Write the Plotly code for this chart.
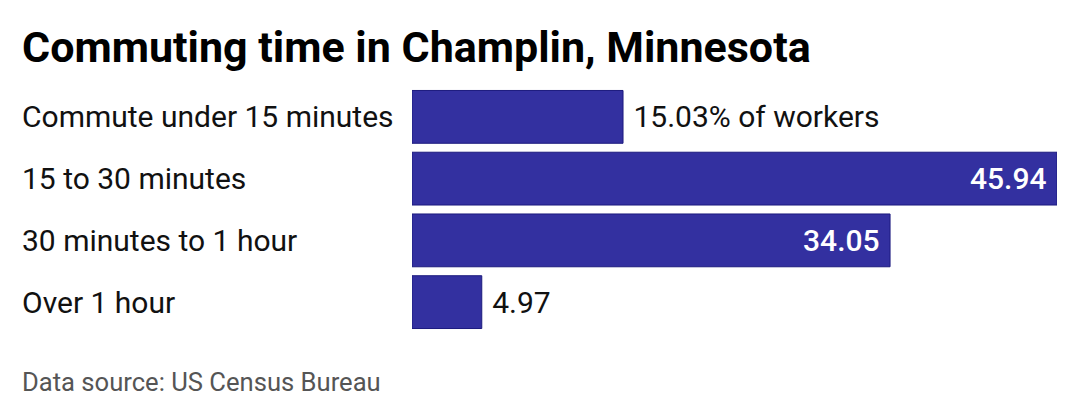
import plotly.graph_objects as go

categories = ["Commute under 15 minutes", "15 to 30 minutes", "30 minutes to 1 hour", "Over 1 hour"]
shares = [15.03, 45.94, 34.05, 4.97]
bar_labels = ["15.03% of workers", "45.94", "34.05", "4.97"]
label_pos = ["outside", "inside", "inside", "outside"]

# page has an 8px body margin, so the figure is drawn 8px smaller
W, H = 1072, 412
left, right, top, bottom = 404, 23, 77.5, 86.5
plot_w = W - left - right
plot_h = H - top - bottom

nb = "\u00a0"
texts = [nb + t if p == "outside" else t + nb for t, p in zip(bar_labels, label_pos)]

fig = go.Figure(go.Bar(
    x=shares, y=categories, orientation="h",
    marker=dict(color="#3330a0", line=dict(color="#1c1a7e", width=1)),
    text=texts, textposition=label_pos, insidetextanchor="end",
    insidetextfont=dict(color="white", size=30, family="Roboto", weight=500),
    outsidetextfont=dict(color="#111111", size=30, family="Roboto"),
    cliponaxis=False, hoverinfo="skip",
))

# left-aligned category names
for c in categories:
    fig.add_annotation(x=(12 - left) / plot_w, xref="x domain", y=c, yref="y",
                       text=c, showarrow=False, xanchor="left",
                       font=dict(size=30, family="Roboto", color="#111111"))

fig.add_annotation(xref="x domain", x=(12 - left) / plot_w, yref="y domain",
                   y=-(375 - (H - bottom)) / plot_h, yanchor="middle", xanchor="left",
                   text="Data source: US Census Bureau", showarrow=False,
                   font=dict(size=25.6, family="Roboto", color="#555555"))

fig.update_layout(
    width=W, height=H, bargap=0.145,
    margin=dict(l=left, r=right, t=top, b=bottom),
    paper_bgcolor="white", plot_bgcolor="white",
    showlegend=False,
    title=dict(text="<b>Commuting time in Champlin, Minnesota</b>", x=14 / W, xanchor="left",
               y=1 - 39 / H, yanchor="middle",
               font=dict(size=43, family="Roboto", color="#000000")),
    xaxis=dict(range=[0, 45.94], visible=False),
    yaxis=dict(autorange="reversed", showticklabels=False, showgrid=False, zeroline=False),
    font=dict(family="Roboto"),
)

fig.write_html("out.html")
